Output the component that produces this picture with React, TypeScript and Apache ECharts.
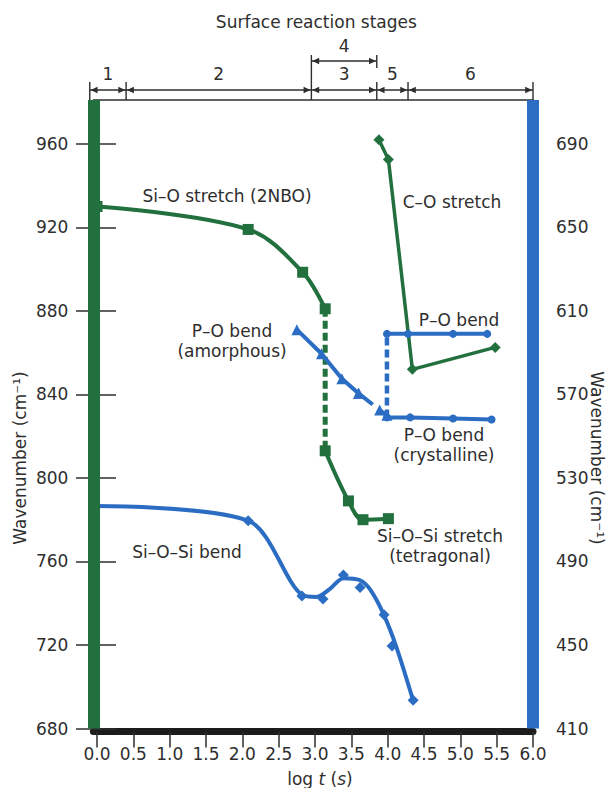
import { useEffect, useRef } from 'react';
import * as echarts from 'echarts';

const GREEN = '#23703f';
const BLUE = '#2c6dc4';
const INK = '#2e2e2e';
const BAR = '#1c1c1c';
const FONT = 'DejaVu Sans';

// Axis ticks
const xTicks = [0, 0.5, 1, 1.5, 2, 2.5, 3, 3.5, 4, 4.5, 5, 5.5, 6];
const leftTicks = [680, 720, 760, 800, 840, 880, 920, 960];
const rightTicks = [410, 450, 490, 530, 570, 610, 650, 690];

// Surface reaction stages (log t boundaries)
const stageBounds = [-0.1, 0.4, 2.95, 3.85, 4.28, 6.0];
const stageNames = ['1', '2', '3', '5', '6'];
const stage4Span = [2.95, 3.85];

// Green bands, left axis (cm-1)
const siOStretch = [[0, 930], [2.08, 919], [2.83, 898.5], [3.14, 881]];
const siOStretchJump = [[3.14, 881], [3.14, 813]];
const siOSiStretch = [[3.14, 813], [3.46, 789], [3.66, 780], [4.01, 780.5]];
const cOStretch = [[3.88, 962], [4.01, 952.5], [4.34, 852], [5.48, 862.5]];

// Blue bands, right axis (cm-1)
const poAmorphous = [[2.75, 601], [3.09, 589.5], [3.37, 577.5], [3.6, 570.5]];
const poAmorphousTail = [[3.6, 570.5], [3.89, 562.5], [3.99, 560]];
const poJump = [[3.99, 559], [3.99, 599]];
const poBendUpper = [[3.99, 599], [4.28, 599], [4.9, 599], [5.37, 599]];
const poCrystalline = [[3.99, 559], [4.31, 559], [4.9, 558.5], [5.43, 558]];
// Si-O-Si bend: measured points and the hand-fitted trend through them
const siOSiBend = [
  [0, 516.5], [2.08, 509.5], [2.82, 473.5], [3.11, 472], [3.39, 483.5],
  [3.62, 477.5], [3.95, 464.5], [4.06, 449.5], [4.35, 423.5],
];
const siOSiBendTrend = [
  [0, 516.5], [2.08, 509.5], [2.82, 474], [3.02, 473], [3.21, 477], [3.39, 482],
  [3.62, 481], [3.76, 476.5], [3.94, 465], [4.12, 449], [4.35, 423.5],
];

const font = (size = 17) => `${size}px "${FONT}"`;

function textEl(text: string, x: number, y: number, extra: any = {}) {
  return {
    type: 'text',
    x,
    y,
    silent: true,
    rotation: extra.rotation || 0,
    style: {
      text,
      fill: INK,
      font: font(),
      align: 'center',
      verticalAlign: 'middle',
      textAlign: 'center',
      textVerticalAlign: 'middle',
      lineHeight: 20,
      ...(extra.style || {}),
    },
  };
}

function seg(x1: number, y1: number, x2: number, y2: number, w = 1.4) {
  return {
    type: 'line',
    silent: true,
    shape: { x1, y1, x2, y2 },
    style: { stroke: INK, lineWidth: w },
  };
}

function arrowHead(tipX: number, y: number, dir: number) {
  // dir = 1: points left (base to the right); dir = -1: points right
  return {
    type: 'polygon',
    silent: true,
    shape: { points: [[tipX, y], [tipX + dir * 7, y - 3.2], [tipX + dir * 7, y + 3.2]] },
    style: { fill: INK },
  };
}

function buildGraphics(chart: any) {
  const px = (v: number) => chart.convertToPixel({ xAxisIndex: 0 }, v) as number;
  const xs = stageBounds.map(px);
  const els: any[] = [];
  const yLine = 90;

  els.push(textEl('Surface reaction stages', (xs[0] + xs[xs.length - 1]) / 2 + 5, 22));
  els.push(seg(xs[0], yLine, xs[xs.length - 1], yLine));
  xs.forEach((x) => els.push(seg(x, 82, x, 100)));
  for (let i = 0; i < stageNames.length; i++) {
    const a = xs[i];
    const b = xs[i + 1];
    els.push(arrowHead(a + 0.8, yLine, 1));
    els.push(arrowHead(b - 0.8, yLine, -1));
    els.push(textEl(stageNames[i], (a + b) / 2, 74));
  }

  // Stage 4 bracket above stage 3
  const s4a = px(stage4Span[0]);
  const s4b = px(stage4Span[1]);
  const yB = 61;
  els.push(seg(s4a, 55, s4a, 82));
  els.push(seg(s4b, 55, s4b, 68));
  els.push(seg(s4a, yB, s4b, yB));
  els.push(arrowHead(s4a + 0.8, yB, 1));
  els.push(arrowHead(s4b - 0.8, yB, -1));
  els.push(textEl('4', (s4a + s4b) / 2, 46));

  // Axis titles
  els.push(textEl('Wavenumber (cm⁻¹)', 20, 458, { rotation: Math.PI / 2 }));
  els.push(textEl('Wavenumber (cm⁻¹)', 597, 458, { rotation: -Math.PI / 2 }));
  els.push(
    textEl('log {i|t} ({i|s})', 320, 779, {
      style: { rich: { i: { fontStyle: 'italic', fontSize: 17, fontFamily: FONT, fill: INK } } },
    })
  );

  // Band labels
  els.push(textEl('Si–O stretch (2NBO)', 227, 196));
  els.push(textEl('C–O stretch', 452, 202));
  els.push(textEl('P–O bend', 459, 320));
  els.push(textEl('P–O bend\n(amorphous)', 232, 341));
  els.push(textEl('P–O bend\n(crystalline)', 444, 445));
  els.push(textEl('Si–O–Si stretch\n(tetragonal)', 440, 546));
  els.push(textEl('Si–O–Si bend', 187, 552));
  return els;
}

function band(data: number[][], yAxisIndex: number, color: string, extra: any = {}) {
  return {
    type: 'line',
    data,
    xAxisIndex: 0,
    yAxisIndex,
    symbolSize: 11,
    itemStyle: { color },
    z: 3,
    ...extra,
    lineStyle: { color, width: 4, ...(extra.lineStyle || {}) },
  };
}

export default function App() {
  const ref = useRef<HTMLDivElement>(null);

  useEffect(() => {
    document.body.style.margin = '0';
    if (!ref.current) return;
    const chart = echarts.init(ref.current, null, { renderer: 'svg' });

    const tickLabel = { fontSize: 17, color: INK, fontFamily: FONT };

    chart.setOption({
      animation: false,
      backgroundColor: '#ffffff',
      textStyle: { fontFamily: FONT },
      grid: { left: 93.4, right: 78, top: 100, bottom: 59.5, containLabel: false, outerBoundsMode: 'none' },
      xAxis: [
        {
          type: 'value',
          min: -0.05,
          max: 6,
          position: 'bottom',
          offset: 3,
          axisLine: { show: true, onZero: false, lineStyle: { color: BAR, width: 7 } },
          axisTick: { show: true, length: 16, customValues: xTicks, lineStyle: { color: INK, width: 1.5 } },
          axisLabel: { ...tickLabel, customValues: xTicks, margin: 14, formatter: (v: number) => v.toFixed(1) },
          splitLine: { show: false },
        },
        {
          type: 'value',
          min: -0.05,
          max: 6,
          position: 'top',
          axisLine: { show: true, onZero: false, lineStyle: { color: INK, width: 1.5 } },
          axisTick: { show: false },
          axisLabel: { show: false },
          splitLine: { show: false },
        },
      ],
      yAxis: [
        {
          type: 'value',
          min: 680,
          max: 981,
          interval: 40,
          position: 'left',
          axisLine: { show: false },
          axisTick: { show: true, length: 21, customValues: leftTicks, lineStyle: { color: INK, width: 1.5 } },
          axisLabel: { ...tickLabel, customValues: leftTicks, margin: 25 },
          splitLine: { show: false },
        },
        {
          type: 'value',
          min: 410,
          max: 711,
          interval: 40,
          position: 'right',
          axisLine: { show: false },
          axisTick: { show: true, length: 19, customValues: rightTicks, lineStyle: { color: INK, width: 1.5 } },
          axisLabel: { ...tickLabel, customValues: rightTicks, margin: 23 },
          splitLine: { show: false },
        },
      ],
      series: [
        band(siOStretch, 0, GREEN, {
          smooth: 0.35,
          symbol: 'rect',
          markLine: {
            silent: true,
            symbol: ['none', 'none'],
            label: { show: false },
            lineStyle: { color: GREEN, width: 12, type: 'solid' },
            data: [{ xAxis: -0.05 }],
          },
        }),
        band(siOStretchJump, 0, GREEN, { symbol: 'none', lineStyle: { width: 5, type: [8, 4] } }),
        band(siOSiStretch, 0, GREEN, { smooth: 0.35, symbol: 'rect' }),
        band(cOStretch, 0, GREEN, { symbol: 'diamond', lineStyle: { width: 3.5 } }),
        band(poAmorphous, 1, BLUE, { symbol: 'triangle' }),
        band(poAmorphousTail, 1, BLUE, { symbol: 'triangle', lineStyle: { type: [18, 7] } }),
        band(poJump, 1, BLUE, { symbol: 'none', lineStyle: { width: 4.5, type: [8, 4] } }),
        band(poBendUpper, 1, BLUE, { symbol: 'circle', symbolSize: 8 }),
        band(poCrystalline, 1, BLUE, {
          symbol: 'circle',
          symbolSize: 8,
          markLine: {
            silent: true,
            symbol: ['none', 'none'],
            label: { show: false },
            lineStyle: { color: BLUE, width: 12, type: 'solid' },
            data: [{ xAxis: 6 }],
          },
        }),
        band(siOSiBendTrend, 1, BLUE, { smooth: 0.3, symbol: 'none' }),
        {
          type: 'scatter',
          data: siOSiBend,
          xAxisIndex: 0,
          yAxisIndex: 1,
          symbol: 'diamond',
          symbolSize: 11,
          itemStyle: { color: BLUE, opacity: 1 },
          z: 4,
        },
      ],
    });

    chart.setOption({ graphic: { elements: buildGraphics(chart) } });

    return () => chart.dispose();
  }, []);

  return <div ref={ref} style={{ width: 611, height: 788 }} />;
}
